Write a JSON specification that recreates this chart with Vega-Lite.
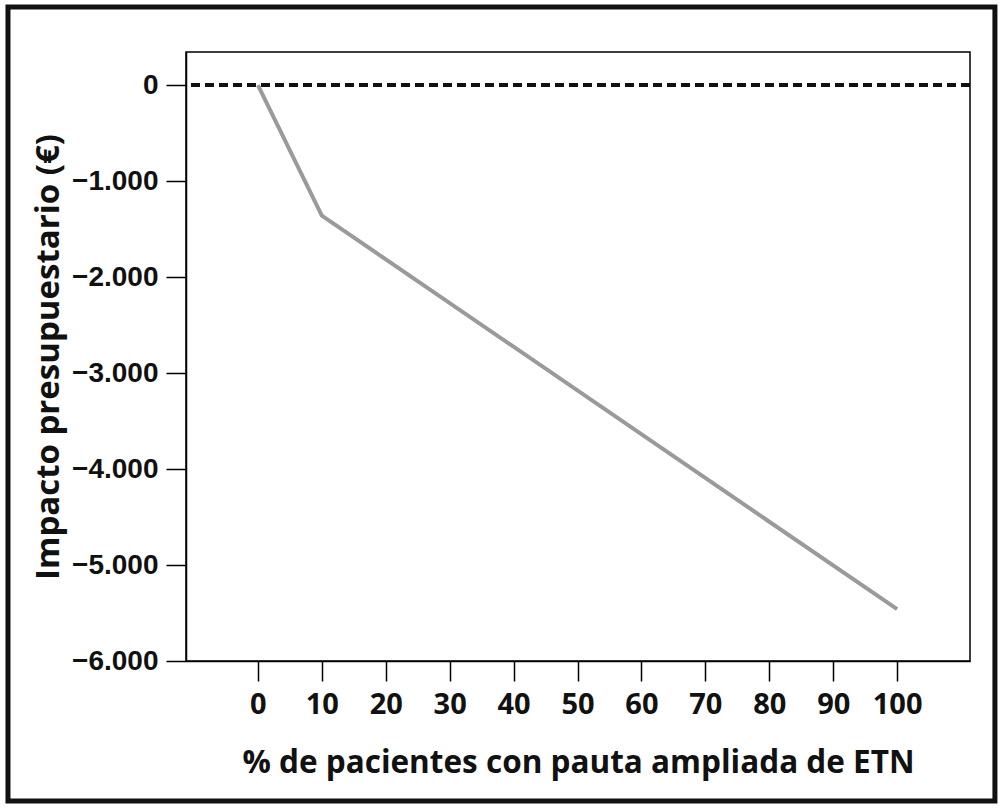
{
  "$schema": "https://vega.github.io/schema/vega-lite/v6.json",
  "width": 784,
  "height": 609,
  "autosize": "none",
  "padding": {"left": 186, "top": 52, "right": 30, "bottom": 147},
  "background": "white",
  "config": {
    "view": {"stroke": "black", "strokeWidth": 1.5},
    "axis": {"grid": false, "domainColor": "black", "domainWidth": 1.5, "tickColor": "black", "tickWidth": 1.5, "tickSize": 20, "labelColor": "#111", "titleColor": "#111"}
  },
  "datasets": {
    "serie": [
      {"pct": 0, "impacto": 0},
      {"pct": 10, "impacto": -1360},
      {"pct": 100, "impacto": -5460}
    ]
  },
  "layer": [
    {
      "data": {"values": [{}]},
      "mark": {"type": "rect", "fill": null, "stroke": "#111", "strokeWidth": 5, "clip": false},
      "encoding": {
        "x": {"datum": -39.1, "type": "quantitative", "scale": {"domain": [-11.25, 111.4], "nice": false, "zero": false}},
        "x2": {"datum": 115.3},
        "y": {"datum": 812, "type": "quantitative", "scale": {"domain": [-6000, 344], "nice": false, "zero": false}},
        "y2": {"datum": -7458}
      }
    },
    {
      "data": {"values": [{}]},
      "mark": {"type": "rule", "color": "#111", "strokeWidth": 4, "strokeDash": [9, 5]},
      "encoding": {
        "y": {"datum": 0, "type": "quantitative"}
      }
    },
    {
      "data": {"name": "serie"},
      "mark": {"type": "line", "color": "#9a9a9a", "strokeWidth": 4},
      "encoding": {
        "x": {
          "field": "pct", "type": "quantitative",
          "scale": {"domain": [-11.25, 111.4], "nice": false, "zero": false},
          "axis": {
            "values": [0, 10, 20, 30, 40, 50, 60, 70, 80, 90, 100],
            "title": "% de pacientes con pauta ampliada de ETN",
            "labelFont": "Open Sans", "labelFontWeight": "bold", "labelFontSize": 29, "labelPadding": 9,
            "titleFont": "Open Sans", "titleFontWeight": "bold", "titleFontSize": 31.5, "titlePadding": 28
          }
        },
        "y": {
          "field": "impacto", "type": "quantitative",
          "scale": {"domain": [-6000, 344], "nice": false, "zero": false},
          "axis": {
            "values": [-6000, -5000, -4000, -3000, -2000, -1000, 0],
            "title": "Impacto presupuestario (€)",
            "labelExpr": "replace(format(datum.value, ','), ',', '.')",
            "labelFont": "Liberation Sans", "labelFontWeight": "bold", "labelFontSize": 28, "labelPadding": 8,
            "titleFont": "Open Sans", "titleFontWeight": "bold", "titleFontSize": 33, "titlePadding": 6
          }
        }
      }
    }
  ]
}
